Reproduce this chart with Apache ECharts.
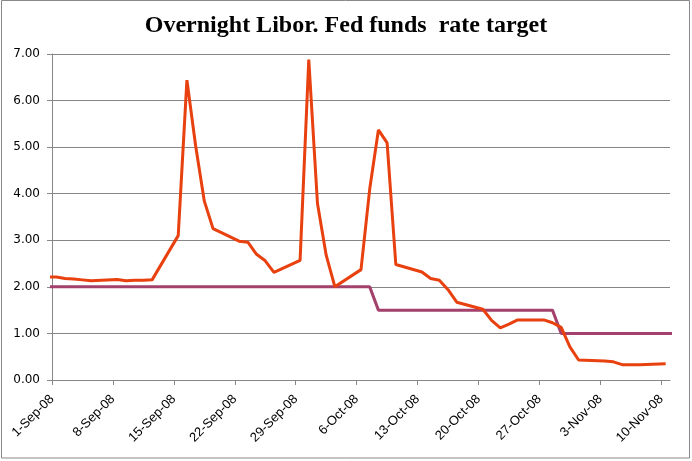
<!DOCTYPE html>
<html>
<head>
<meta charset="utf-8">
<script src="https://cdn.jsdelivr.net/npm/echarts@6/dist/echarts.min.js"></script>
<style>
html,body{margin:0;padding:0;background:#fff;}
#chart{width:692px;height:461px;}
</style>
</head>
<body>
<div id="chart"></div>
<script>
// Business days shown (ISO dates)
const dates = [
  '2008-08-29',
  '2008-09-01','2008-09-02','2008-09-03','2008-09-04','2008-09-05',
  '2008-09-08','2008-09-09','2008-09-10','2008-09-11','2008-09-12',
  '2008-09-15','2008-09-16','2008-09-17','2008-09-18','2008-09-19',
  '2008-09-22','2008-09-23','2008-09-24','2008-09-25','2008-09-26',
  '2008-09-29','2008-09-30','2008-10-01','2008-10-02','2008-10-03',
  '2008-10-06','2008-10-07','2008-10-08','2008-10-09','2008-10-10',
  '2008-10-13','2008-10-14','2008-10-15','2008-10-16','2008-10-17',
  '2008-10-20','2008-10-21','2008-10-22','2008-10-23','2008-10-24',
  '2008-10-27','2008-10-28','2008-10-29','2008-10-30','2008-10-31',
  '2008-11-03','2008-11-04','2008-11-05','2008-11-06','2008-11-07',
  '2008-11-10','2008-11-11'
];
// Overnight Libor (null where no value is drawn)
const libor = [
  2.21,
  2.21, 2.18, 2.17, 2.15, 2.13,
  2.16, 2.13, 2.14, 2.14, 2.15,
  3.10, 6.44, 5.03, 3.84, 3.25,
  2.98, 2.96, 2.70, 2.56, 2.31,
  2.57, 6.88, 3.79, 2.68, 2.00,
  2.37, 4.10, 5.37, 5.09, 2.48,
  2.32, 2.18, 2.14, 1.94, 1.67,
  1.52, 1.28, 1.12, 1.20, 1.29,
  1.29, 1.23, 1.13, 0.71, 0.43,
  0.41, 0.39, 0.33, 0.33, 0.33,
  0.35, null
];
// Fed funds rate target
const target = [
  2.00,
  2.00, 2.00, 2.00, 2.00, 2.00,
  2.00, 2.00, 2.00, 2.00, 2.00,
  2.00, 2.00, 2.00, 2.00, 2.00,
  2.00, 2.00, 2.00, 2.00, 2.00,
  2.00, 2.00, 2.00, 2.00, 2.00,
  2.00, 2.00, 1.50, 1.50, 1.50,
  1.50, 1.50, 1.50, 1.50, 1.50,
  1.50, 1.50, 1.50, 1.50, 1.50,
  1.50, 1.50, 1.00, 1.00, 1.00,
  1.00, 1.00, 1.00, 1.00, 1.00,
  1.00, 1.00
];
const yTicks = [0, 1, 2, 3, 4, 5, 6, 7];
const axisStart = '2008-09-01';
const axisEnd = '2008-11-11';
const months = ['Jan','Feb','Mar','Apr','May','Jun','Jul','Aug','Sep','Oct','Nov','Dec'];

const DAY = 86400000;
const t0 = Date.parse(axisStart);
const dayIdx = d => (Date.parse(d) - t0) / DAY;
// Points sit in the middle of their day (date axis "between tick marks")
const toPts = arr => dates.map((d, i) => arr[i] == null ? null : [dayIdx(d) + 0.5, arr[i]]).filter(p => p);

const chart = echarts.init(document.getElementById('chart'), null, {renderer: 'canvas'});
chart.setOption({
  animation: false,
  backgroundColor: '#fff',
  title: {
    text: 'Overnight Libor. Fed funds  rate target',
    left: 'center',
    top: 9,
    textStyle: {fontFamily: 'Liberation Serif', fontWeight: 'bold', fontSize: 24, color: '#000'}
  },
  grid: {left: 52, right: 22, top: 54, bottom: 81, containLabel: false},
  xAxis: {
    type: 'value',
    min: 0,
    max: dayIdx(axisEnd),
    interval: 7,
    splitLine: {show: false},
    axisLine: {show: true, lineStyle: {color: '#868686', width: 1}},
    axisTick: {show: true, length: 5, lineStyle: {color: '#868686'}},
    axisLabel: {
      rotate: 45,
      margin: 17,
      fontFamily: 'Liberation Sans',
      fontSize: 13,
      color: '#000',
      showMaxLabel: false,
      formatter: v => {
        const d = new Date(t0 + v * DAY);
        return d.getUTCDate() + '-' + months[d.getUTCMonth()] + '-' + String(d.getUTCFullYear()).slice(2);
      }
    }
  },
  yAxis: {
    type: 'value',
    min: yTicks[0],
    max: yTicks[yTicks.length - 1],
    interval: 1,
    axisLine: {show: true, lineStyle: {color: '#868686', width: 1}},
    axisTick: {show: true, length: 5, lineStyle: {color: '#868686'}},
    splitLine: {show: true, lineStyle: {color: '#868686', width: 1}},
    axisLabel: {
      fontFamily: 'DejaVu Sans',
      fontSize: 12,
      color: '#000',
      margin: 12,
      formatter: v => v.toFixed(2)
    }
  },
  series: [
    {
      name: 'Fed funds rate target',
      type: 'line',
      data: toPts(target),
      showSymbol: false,
      lineStyle: {color: '#A3406C', width: 3},
      itemStyle: {color: '#A3406C'},
      clip: true,
      z: 2
    },
    {
      name: 'Overnight Libor',
      type: 'line',
      data: toPts(libor),
      showSymbol: false,
      lineStyle: {color: '#E8400E', width: 3},
      itemStyle: {color: '#E8400E'},
      clip: true,
      z: 3
    }
  ],
  graphic: [{
    type: 'rect',
    shape: {x: 1.5, y: 0.5, width: 688, height: 457.5},
    style: {fill: 'none', stroke: '#888', lineWidth: 1},
    silent: true
  }]
});
</script>
</body>
</html>
